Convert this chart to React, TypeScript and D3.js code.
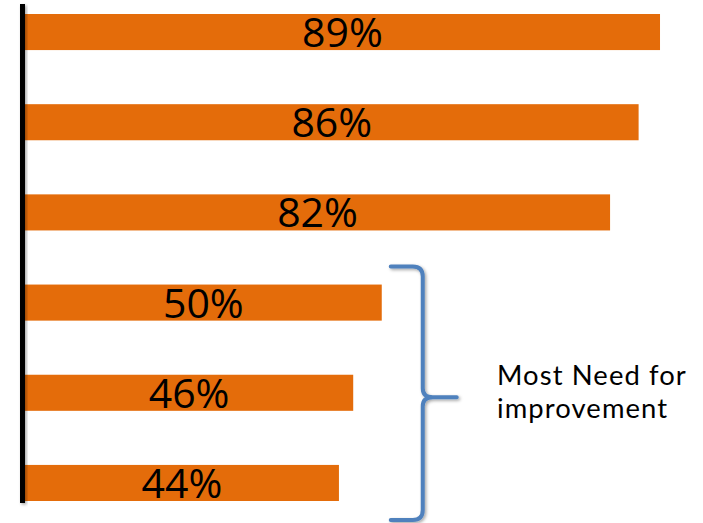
import React from "react";
import * as d3 from "d3";

const categories = ["A", "B", "C", "D", "E", "F"];
const values = [89, 86, 82, 50, 46, 44];
const labels = ["89%", "86%", "82%", "50%", "46%", "44%"];
const noteLines = ["Most Need for", "improvement"];
const bracketCats = ["D", "F"];

const W = 703;
const H = 523;

export default function App() {
  const y = d3.scaleBand<string>().domain(categories).range([14, 501]).paddingInner(0.6).paddingOuter(0);
  const x = d3.scaleLinear().domain([0, 100]).range([25, 738.5]);
  const bw = y.bandwidth();

  const top = (y(bracketCats[0]) as number) - 18;
  const bot = (y(bracketCats[1]) as number) + bw + 19;
  const mid = (top + bot) / 2 + 4;
  const x0 = x(values[3]) + 9;
  const xv = x0 + 32;
  const xt = x0 + 66;
  const p = d3.path();
  p.moveTo(x0, top);
  p.lineTo(xv - 10, top);
  p.quadraticCurveTo(xv, top, xv, top + 10);
  p.lineTo(xv, mid - 9);
  p.quadraticCurveTo(xv, mid, xv + 10, mid);
  p.lineTo(xt, mid);
  p.moveTo(xv + 10, mid);
  p.quadraticCurveTo(xv, mid, xv, mid + 9);
  p.lineTo(xv, bot - 10);
  p.quadraticCurveTo(xv, bot, xv - 10, bot);
  p.lineTo(x0, bot);

  return (
    <svg width={W} height={H} style={{ position: "absolute", left: 0, top: 0 }} fontFamily="'Open Sans', sans-serif">
      <defs>
        <filter id="sh" x="-50%" y="-10%" width="200%" height="120%">
          <feDropShadow dx="1.5" dy="1.5" stdDeviation="1.5" floodColor="#000" floodOpacity="0.35" />
        </filter>
      </defs>
      <rect width={W} height={H} fill="#fff" />
      {categories.map((c, i) => (
        <g key={c}>
          <rect x={x(0)} y={y(c)} width={x(values[i]) - x(0)} height={bw} fill="#E46C0A" />
          <text
            x={(x(0) + x(values[i])) / 2}
            y={(y(c) as number) + bw - 3}
            textAnchor="middle"
            fontSize={41}
            fill="#000"
          >
            {labels[i]}
          </text>
        </g>
      ))}
      <rect x={20} y={4} width={5} height={499} fill="#000" filter="url(#sh)" />
      <path d={p.toString()} fill="none" stroke="#4F81BD" strokeWidth={4} strokeLinecap="round" filter="url(#sh)" />
      {noteLines.map((t, i) => (
        <text key={t} x={497} y={385 + i * 33} fontSize={27.4} letterSpacing={1.1} fontFamily="Lato, sans-serif" fill="#000">
          {t}
        </text>
      ))}
    </svg>
  );
}
